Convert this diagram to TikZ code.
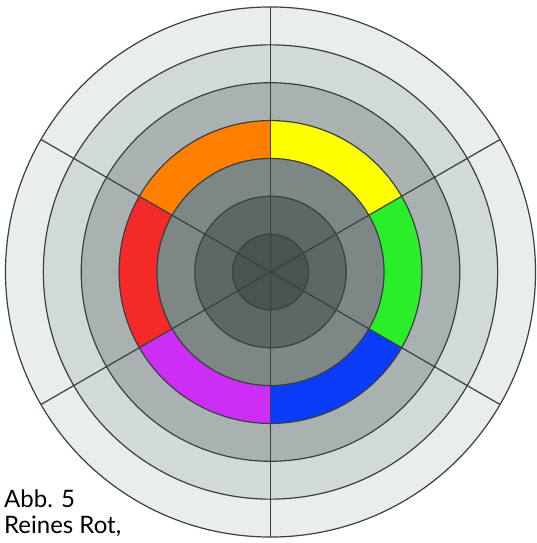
\documentclass[tikz,border=0pt]{standalone}
\usepackage{fontspec}
\setmainfont{Lato}
\usepackage{xcolor}
\usepackage{tikz}
\definecolor{ink}{HTML}{3A403F}
\definecolor{ringA}{HTML}{4B5352}
\definecolor{ringB}{HTML}{5E6766}
\definecolor{ringC}{HTML}{7D8786}
\definecolor{ringE}{HTML}{A9B2B1}
\definecolor{ringF}{HTML}{D2D9D9}
\definecolor{ringG}{HTML}{E9EDED}
\definecolor{hueyellow}{HTML}{FFFF00}
\definecolor{huegreen}{HTML}{2BEE2B}
\definecolor{hueblue}{HTML}{0A3CFA}
\definecolor{huepurple}{HTML}{CC2EF5}
\definecolor{huered}{HTML}{F42A2A}
\definecolor{hueorange}{HTML}{FF8000}
\tikzset{
  ringline/.style={draw=ink,line width=1.2pt},
  spoke/.style={draw=ink,line width=1.2pt},
  caption/.style={anchor=base west,inner sep=0pt,font=\fontsize{24}{28}\selectfont,text=black}
}

\begin{document}
\begin{tikzpicture}[x=1pt,y=1pt]
\useasboundingbox (-270.5,-271) rectangle (266.5,272);
\def\rstep{37.86}
% grey rings, outside in
\foreach \k/\col in {7/ringG,6/ringF,5/ringE,4/ringE,3/ringC,2/ringB,1/ringA}
  \fill[\col] (0,0) circle ({\k*\rstep});
% colour ring
\foreach \a/\col in {90/hueyellow,30/huegreen,-30/hueblue,-90/huepurple,-150/huered,150/hueorange}
  \fill[\col] (\a:{4*\rstep}) arc[start angle=\a,delta angle=-60,radius={4*\rstep}]
    -- ({\a-60}:{3*\rstep}) arc[start angle={\a-60},delta angle=60,radius={3*\rstep}] -- cycle;
% circle outlines
\foreach \k in {1,...,7}
  \draw[ringline] (0,0) circle ({\k*\rstep});
% spokes
\coordinate (hub) at (0,0);
\foreach \a in {30,150,210,330}
  \draw[spoke] (hub) -- (\a:{7*\rstep});
\draw[spoke,line width=1.5pt] (90:{7*\rstep}) -- (270:{7*\rstep});
% caption
\node[caption] (abb) at (-266.5,-235) {Abb. 5};
\node[caption] (rot) at (-266.5,-261) {Reines Rot,};
\end{tikzpicture}
\end{document}
